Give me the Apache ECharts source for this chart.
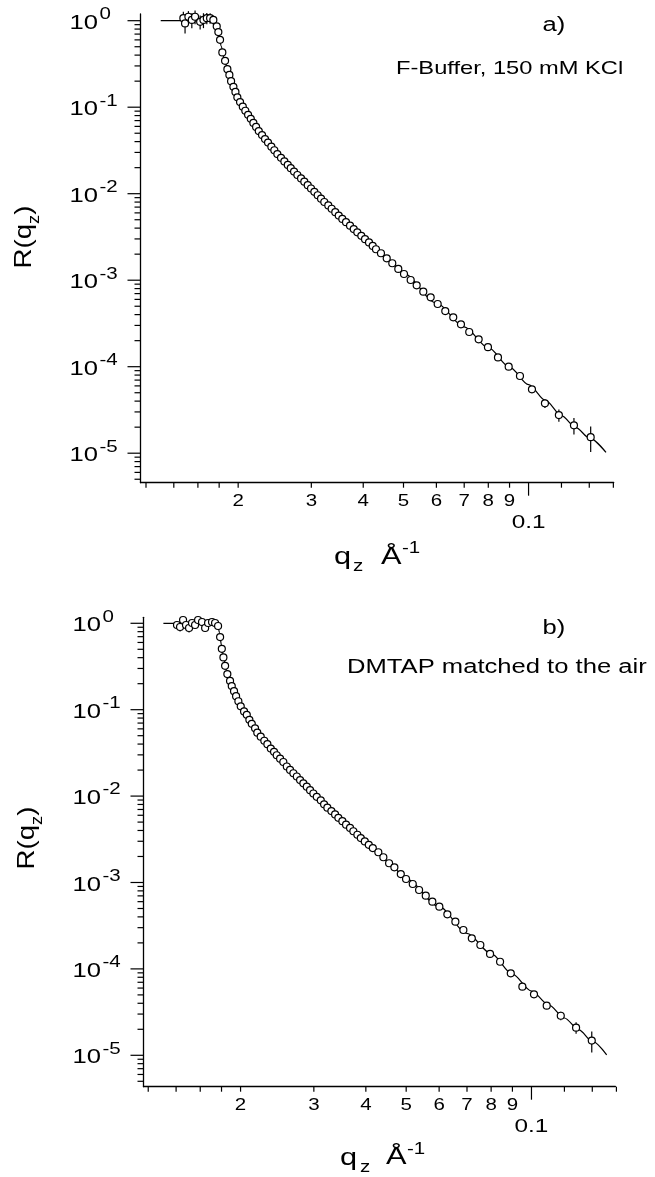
<!DOCTYPE html>
<html>
<head>
<meta charset="utf-8">
<script src="https://cdn.jsdelivr.net/npm/echarts@6/dist/echarts.min.js"></script>
<style>html,body{margin:0;padding:0;background:#fff}#c{width:655px;height:1177px}</style>
</head>
<body>
<div id="c"></div>
<script>
// ---------------- data: panel a (F-Buffer, 150 mM KCl) ----------------
const qA = [
0.01476,0.01490,0.01518,0.01547,0.01575,0.01620,0.01650,0.01681,0.01712,0.01743,
0.01776,0.01792,0.01809,0.01832,0.01860,0.01884,0.01905,0.01923,0.01948,0.01970,
0.01991,0.02021,0.02052,0.02081,0.02113,0.02145,0.02176,0.02209,0.02242,0.02283,
0.02321,0.02360,0.02404,0.02444,0.02485,0.02536,0.02584,0.02633,0.02677,0.02726,
0.02777,0.02834,0.02886,0.02941,0.02995,0.03051,0.03108,0.03166,0.03224,0.03296,
0.03358,0.03426,0.03492,0.03562,0.03636,0.03718,0.03795,0.03871,0.03958,0.04040,
0.04130,0.04216,
0.04293,0.04413,0.04556,0.04699,0.04858,0.05014,0.05203,0.05379,0.05580,0.05813,
0.06043,0.06303,0.06588,0.06875,0.07198,0.07584,0.07985,0.08441,0.08957,0.09535,
0.1019,0.1095,0.1183,0.1286,0.1411];
const rA = [
1.07,0.93,1.11,1.02,1.11,0.97,1.02,1.07,1.07,1.02,
0.860,0.738,0.601,0.430,0.344,0.275,0.236,0.200,0.172,0.150,
0.1301,0.1147,0.1013,0.0910,0.0816,0.0733,0.0658,0.0591,0.0530,0.0476,
0.0428,0.0390,0.0350,0.0318,0.0287,0.0260,0.0236,0.0215,0.0197,0.0180,
0.01645,0.01503,0.01376,0.01255,0.01148,0.01051,0.00959,0.00877,0.00802,0.00732,
0.00670,0.00612,0.00559,0.00511,0.00468,0.00427,0.00390,0.00358,0.00326,0.00298,
0.00273,0.00249,
0.00228,0.00205,0.00179,0.00157,0.00135,0.00118,0.001005,0.000873,0.000736,0.000634,
0.000531,0.000440,0.000372,0.000309,0.000252,0.000207,0.000168,0.000128,0.000100,0.0000781,
0.0000548,0.0000377,0.0000276,0.0000210,0.0000153];
const errA = [
0.20,0.22,0.18,0.20,0.20,0.18,0.20,0.16,0.15,0.12,
0.08,0.05,0,0,0,0,0,0,0,0,
0,0,0,0,0,0,0,0,0,0,
0,0,0,0,0,0,0,0,0,0,
0,0,0,0,0,0,0,0,0,0,
0,0,0,0,0,0,0,0,0,0,
0,0,
0,0,0,0,0,0,0,0,0,0,
0,0,0,0,0,0,0,0,0,0.000004,
0.0000045,0.0000045,0.0000045,0.0000045,0.000005];
const fitQA = [0.01302,0.0176,0.0178,0.0180,0.0182,0.0185,0.0190,0.0195,0.0200,0.0210,0.0225,0.0240,0.0260,0.0280,0.0300,0.0325,0.0350,0.0400,0.0450,0.0500,0.0600,0.0700,0.0800,0.0900,0.1000,0.1100,0.1200,0.1300,0.1400,0.1536];
const fitRA = [1.0,1.0,0.83,0.67,0.51,0.37,0.245,0.170,0.128,0.085,0.052,0.0352,0.0228,0.0158,0.0114,0.0078,0.0056,0.00310,0.00190,0.00120,0.000545,0.000288,0.000166,0.0000990,0.0000620,0.0000405,0.0000272,0.0000198,0.0000150,0.0000102];

// ---------------- data: panel b (DMTAP matched to the air) ----------------
const qB = [
0.01407,0.01431,0.01455,0.01479,0.01504,0.01529,0.01555,0.01581,0.01616,0.01644,0.01671,0.01708,0.01737,0.01766,
0.01786,0.01803,0.01819,0.01836,0.01859,0.01887,0.01905,0.01929,0.01951,0.01976,
0.02002,0.02039,0.02070,0.02100,0.02128,0.02167,0.02194,0.02236,0.02281,0.02320,
0.02364,0.02407,0.02443,0.02489,0.02534,0.02583,0.02630,0.02679,0.02730,0.02780,
0.02831,0.02885,0.02938,0.02992,0.03049,0.03117,0.03175,0.03233,0.03306,0.03374,
0.03436,0.03513,0.03585,0.03665,0.03733,0.03817,0.03890,0.03977,0.04066,0.04157,
0.04286,0.04407,0.04549,0.04684,0.04853,0.04996,0.05185,0.05370,0.05572,0.05779,
0.06007,0.06279,0.06564,0.06861,0.07189,0.07537,0.07952,0.08406,0.08918,0.09509,
0.1014,0.1088,0.1176,0.1280,0.1396];
const rB = [
0.956,0.906,1.092,0.956,0.882,1.008,0.956,1.092,1.035,0.882,1.008,1.035,1.008,0.930,
0.692,0.506,0.403,0.322,0.258,0.215,0.1876,0.1640,0.1433,0.1252,
0.1094,0.0955,0.0873,0.0763,0.0686,0.0609,0.0542,0.0487,0.0437,0.0399,
0.0355,0.0325,0.0297,0.0271,0.0248,0.0220,0.0201,0.01838,0.01685,0.01533,
0.01405,0.01284,0.01172,0.01072,0.00981,0.00894,0.00803,0.00735,0.00671,0.00613,
0.00560,0.00512,0.00467,0.00428,0.00392,0.00357,0.00327,0.00299,0.00273,0.00250,
0.00224,0.00196,0.00167,0.00150,0.00125,0.001098,0.000961,0.000819,0.000704,0.000600,
0.000525,0.000428,0.000352,0.000282,0.000226,0.000189,0.000149,0.000121,0.0000889,0.0000622,
0.0000508,0.0000375,0.0000287,0.0000209,0.0000148];
const errB = [
0.08,0.10,0.07,0.09,0.10,0.06,0.08,0.07,0.06,0.09,0.05,0.06,0.05,0.06,
0.04,0,0,0,0,0,0,0,0,0,
0,0,0,0,0,0,0,0,0,0,
0,0,0,0,0,0,0,0,0,0,
0,0,0,0,0,0,0,0,0,0,
0,0,0,0,0,0,0,0,0,0,
0,0,0,0,0,0,0,0,0,0,
0,0,0,0,0,0,0,0,0,0,
0,0.0000025,0.0000032,0.0000032,0.000004];
const fitQB = [0.01305,0.0176,0.0178,0.0180,0.0182,0.0185,0.0190,0.0195,0.0200,0.0210,0.0225,0.0240,0.0260,0.0280,0.0300,0.0325,0.0350,0.0400,0.0450,0.0500,0.0600,0.0700,0.0800,0.0900,0.1000,0.1100,0.1200,0.1300,0.1400,0.1516];
const fitRB = [1.0,1.0,0.78,0.55,0.41,0.29,0.198,0.146,0.111,0.077,0.048,0.0328,0.0212,0.0149,0.0106,0.0072,0.0052,0.00296,0.00178,0.00110,0.000525,0.000258,0.000150,0.0000870,0.0000555,0.0000383,0.0000270,0.0000197,0.0000145,0.0000101];

// ---------------- axis ticks / labels ----------------
const xMinorTickVals = [0.012,0.014,0.016,0.018,0.02,0.03,0.04,0.05,0.06,0.07,0.08,0.09,0.12,0.14,0.16];
const xMajorTickVals = [0.1];
const xDigitLabelVals = [0.02,0.03,0.04,0.05,0.06,0.07,0.08,0.09];
const xDigitLabels = ['2','3','4','5','6','7','8','9'];
const xDecadeLabelVals = [0.1];
const xDecadeLabels = ['0.1'];
const yDecadeExps = [0,-1,-2,-3,-4,-5];
const yMinorMultipliers = [2,3,4,5,6,7,8,9];

const FF = '"Liberation Sans", Arial, Helvetica, sans-serif';
const SX = 1.28;

const panels = [
  {grid:{left:140.5, top:14, width:473.2, height:468.7}, xMin:0.01164, xMax:0.1603, yMin:4.56e-6, yMax:1.195,
   q:qA, r:rA, e:errA, fq:fitQA, fr:fitRA},
  {grid:{left:143.5, top:617.3, width:471.9, height:469.4}, xMin:0.01169, xMax:0.1591, yMin:4.33e-6, yMax:1.173,
   q:qB, r:rB, e:errB, fq:fitQB, fr:fitRB}
];

function buildDecor(p){
  const d = [];
  xMinorTickVals.forEach(v => d.push({k:'xt', v:v, len:5}));
  xMajorTickVals.forEach(v => d.push({k:'xt', v:v, len:13}));
  xDigitLabelVals.forEach((v,i) => d.push({k:'xl', v:v, t:xDigitLabels[i], size:16, dy:19}));
  xDecadeLabelVals.forEach((v,i) => d.push({k:'xl', v:v, t:xDecadeLabels[i], size:19, dy:40}));
  yDecadeExps.forEach(e => { d.push({k:'yt', v:Math.pow(10,e), len:13}); d.push({k:'yl', e:e}); });
  for (let e=-6; e<0; e++) yMinorMultipliers.forEach(m => {
    const v = m*Math.pow(10,e);
    if (v >= p.yMin && v <= p.yMax) d.push({k:'yt', v:v, len:6});
  });
  return d;
}

const grids=[], xAxes=[], yAxes=[], series=[];
panels.forEach((p, i) => {
  grids.push(Object.assign({containLabel:false}, p.grid));
  const axLine = {show:true, onZero:false, lineStyle:{color:'#000', width:1.3}};
  xAxes.push({gridIndex:i, type:'log', logBase:10, min:p.xMin, max:p.xMax, axisLine:axLine,
    axisTick:{show:false}, axisLabel:{show:false}, splitLine:{show:false}, minorTick:{show:false}});
  yAxes.push({gridIndex:i, type:'log', logBase:10, min:p.yMin, max:p.yMax, axisLine:axLine,
    axisTick:{show:false}, axisLabel:{show:false}, splitLine:{show:false}, minorTick:{show:false}});
  // fit line
  series.push({type:'line', xAxisIndex:i, yAxisIndex:i, data:p.fq.map((q,j)=>[q, p.fr[j]]),
    showSymbol:false, symbol:'none', smooth:0.3, smoothMonotone:'x',
    lineStyle:{color:'#000', width:1.2}, z:2, silent:true});
  // error bars
  series.push({type:'custom', xAxisIndex:i, yAxisIndex:i, clip:false, z:3, silent:true,
    data:p.q.map((q,j)=>[q, p.r[j], p.e[j]]),
    renderItem:function(params, api){
      const q=api.value(0), r=api.value(1), e=api.value(2);
      if (!e) return null;
      const a = api.coord([q, r+e]), b = api.coord([q, Math.max(r-e, 1e-9)]);
      return {type:'line', shape:{x1:a[0], y1:a[1], x2:b[0], y2:b[1]}, style:{stroke:'#000', lineWidth:1.2}};
    }});
  // data points
  series.push({type:'scatter', xAxisIndex:i, yAxisIndex:i, data:p.q.map((q,j)=>[q, p.r[j]]),
    symbol:'circle', symbolSize:7, itemStyle:{color:'#fff', borderColor:'#000', borderWidth:1.2, opacity:1},
    z:4, silent:true});
  // ticks and tick labels
  const decor = buildDecor(p);
  series.push({type:'custom', xAxisIndex:i, yAxisIndex:i, clip:false, z:5, silent:true,
    data:decor.map(()=>[p.xMin, p.yMin]),
    renderItem:function(params, api){
      const it = decor[params.dataIndex];
      if (it.k === 'xt') {
        const c = api.coord([it.v, p.yMin]);
        return {type:'line', shape:{x1:c[0], y1:c[1], x2:c[0], y2:c[1]+it.len}, style:{stroke:'#000', lineWidth:1.2}};
      }
      if (it.k === 'yt') {
        const c = api.coord([p.xMin, it.v]);
        return {type:'line', shape:{x1:c[0]-it.len, y1:c[1], x2:c[0], y2:c[1]}, style:{stroke:'#000', lineWidth:1.2}};
      }
      if (it.k === 'xl') {
        const c = api.coord([it.v, p.yMin]);
        return {type:'text', x:c[0], y:c[1]+it.dy, scaleX:SX,
          style:{text:it.t, fontSize:it.size, fontFamily:FF, fill:'#000', align:'center', verticalAlign:'middle'}};
      }
      if (it.k === 'yl') {
        const c = api.coord([p.xMin, Math.pow(10, it.e)]);
        return {type:'group', children:[
          {type:'text', x:c[0]-71, y:c[1]+2.5, scaleX:SX,
            style:{text:'10', fontSize:20, fontFamily:FF, fill:'#000', align:'left', verticalAlign:'middle'}},
          {type:'text', x:c[0]-41, y:c[1]-6, scaleX:SX,
            style:{text:String(it.e), fontSize:16, fontFamily:FF, fill:'#000', align:'left', verticalAlign:'middle'}}
        ]};
      }
      return null;
    }});
});

function T(x, y, text, size, align, extra){
  return Object.assign({type:'text', x:x, y:y, scaleX:SX, silent:true,
    style:{text:text, fontSize:size, fontFamily:FF, fill:'#000', align:align||'left', verticalAlign:'middle'}}, extra||{});
}
function yTitle(x, y){
  return {type:'group', x:x, y:y, rotation:Math.PI/2, scaleX:1.15, silent:true, children:[
    {type:'text', x:-27.35, y:0, style:{text:'R(q', fontSize:24, fontFamily:FF, fill:'#000', align:'left', verticalAlign:'middle'}},
    {type:'text', x:11.35, y:10, style:{text:'z', fontSize:16, fontFamily:FF, fill:'#000', align:'left', verticalAlign:'middle'}},
    {type:'text', x:19.35, y:0, style:{text:')', fontSize:24, fontFamily:FF, fill:'#000', align:'left', verticalAlign:'middle'}}
  ]};
}
const graphic = [
  // panel a
  T(334, 557, 'q', 24), T(353, 567, 'z', 16), T(381, 557, 'Å', 24), T(402, 549, '-1', 16),
  yTitle(24.7, 237),
  T(554, 25, 'a)', 20, 'center'),
  T(396, 69, 'F-Buffer, 150 mM KCl', 18.5),
  // panel b
  T(340, 1158, 'q', 24), T(360, 1168, 'z', 16), T(386, 1157, 'Å', 24), T(407, 1150, '-1', 16),
  yTitle(27.7, 838),
  T(554, 628, 'b)', 20, 'center'),
  T(347, 667, 'DMTAP matched to the air', 20)
];

const chart = echarts.init(document.getElementById('c'), null, {renderer:'canvas'});
chart.setOption({
  backgroundColor:'#fff',
  animation:false,
  grid:grids, xAxis:xAxes, yAxis:yAxes, series:series, graphic:graphic
});
</script>
</body>
</html>
